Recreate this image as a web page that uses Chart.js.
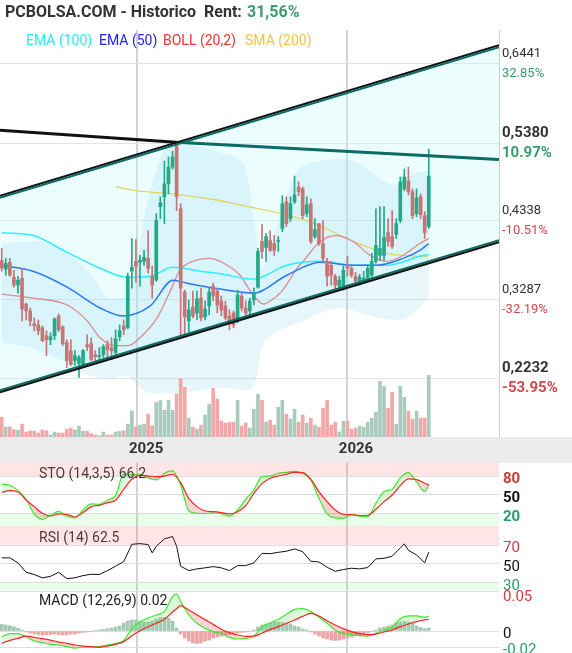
<!DOCTYPE html>
<html>
<head>
<meta charset="utf-8">
<title>PCBOLSA.COM - Historico</title>
<script src="https://cdn.jsdelivr.net/npm/chart.js@4.4.1/dist/chart.umd.min.js"></script>
<style>
  html, body { margin: 0; padding: 0; background: #fff; }
  #page { position: relative; width: 572px; height: 653px; overflow: hidden; font-family: Roboto, "Noto Sans", sans-serif; }
  #page canvas { position: absolute; left: 0; }
  .txt { position: absolute; white-space: nowrap; line-height: 1; }
  #title { left: 5px; top: 4px; font-size: 16px; font-weight: bold; color: #333; }
  #rent { left: 247px; top: 4px; font-size: 16px; font-weight: bold; color: #3a9c6c; }
  .leg { top: 33px; font-size: 14px; }
</style>
</head>
<body>
<div id="page">
  <canvas id="cMain" width="572" height="463" style="top:0"></canvas>
  <canvas id="cSto" width="572" height="63" style="top:463px"></canvas>
  <canvas id="cRsi" width="572" height="64" style="top:526px"></canvas>
  <canvas id="cMacd" width="572" height="63" style="top:590px"></canvas>
  <div class="txt" id="title">PCBOLSA.COM - Historico&nbsp; Rent:</div>
  <div class="txt" id="rent">31,56%</div>
  <div class="txt leg" style="left:26px;color:#22eef2">EMA (100)</div>
  <div class="txt leg" style="left:99px;color:#2323ee">EMA (50)</div>
  <div class="txt leg" style="left:163px;color:#ee3434">BOLL (20,2)</div>
  <div class="txt leg" style="left:245px;color:#f2c440">SMA (200)</div>
</div>
<script>
// weekly candles, index 0 = first week shown
const open = [.3812,.3692,.3785,.3586,.3480,.3573,.3227,.3134,.2962,.2948,
  .2909,.2802,.2749,.2802,.3068,.2922,.2709,.2603,.2470,.2431,
  .2417,.2683,.2696,.2550,.2523,.2550,.2683,.2643,.2577,.2789,
  .2935,.2909,.3666,.3798,.3785,.3798,.3838,.3599,.3546,.4529,
  .4662,.4834,.5060,.5339,.4502,.3387,.3002,.3187,.3108,.3307,
  .3055,.3201,.3466,.3400,.3267,.3201,.3068,.3108,.3002,.3334,
  .3174,.3134,.3280,.3453,.4064,.3984,.4077,.4037,.4064,.4237,
  .4595,.4369,.4595,.4794,.4768,.4436,.4569,.4130,.4303,.4037,
  .3798,.3745,.3599,.3466,.3440,.3745,.3705,.3599,.3533,.3546,
  .3573,.3612,.3798,.3878,.3878,.4183,.4130,.4157,.4343,.4768,
  .4874,.4728,.4436,.4662,.4409,.4263];
const high = [.3971,.3838,.3838,.3679,.3599,.3705,.3241,.3174,.3041,.3015,
  .2935,.2869,.2842,.3041,.3095,.2935,.2749,.2749,.2603,.2537,
  .2616,.2816,.2776,.2603,.2643,.2683,.2736,.2776,.2882,.2948,
  .3015,.3639,.4104,.4090,.3878,.3944,.4210,.3732,.4436,.4662,
  .5140,.5193,.5272,.5392,.4569,.3413,.3280,.3400,.3400,.3440,
  .3267,.3440,.3506,.3440,.3334,.3267,.3148,.3134,.3413,.3373,
  .3267,.3307,.3440,.3971,.4290,.4170,.4210,.4144,.4130,.4675,
  .4662,.4662,.4940,.4861,.4794,.4662,.4635,.4369,.4303,.4343,
  .3838,.3798,.3626,.3599,.3732,.3865,.3759,.3652,.3626,.3666,
  .3732,.3905,.4502,.4529,.4529,.4369,.4476,.4369,.4927,.5033,
  .5060,.4768,.4768,.4701,.4462,.5299];
const low = [.3666,.3612,.3599,.3453,.3373,.3002,.3015,.2935,.2869,.2816,
  .2723,.2537,.2683,.2749,.2855,.2670,.2377,.2404,.2404,.2245,
  .2404,.2603,.2470,.2470,.2470,.2510,.2484,.2484,.2537,.2736,
  .2816,.2895,.3440,.3519,.3466,.3745,.3639,.3307,.3533,.4369,
  .4303,.4701,.5033,.4476,.2802,.2816,.2842,.3041,.3015,.3002,
  .3015,.3081,.3267,.3108,.3068,.3015,.2882,.2909,.2975,.3134,
  .3081,.3095,.3214,.3440,.3838,.3798,.3931,.3878,.3931,.4197,
  .4263,.4330,.4569,.4675,.4369,.4396,.4037,.4104,.4011,.3798,
  .3466,.3480,.3400,.3427,.3413,.3599,.3586,.3480,.3480,.3506,
  .3533,.3586,.3772,.3812,.3812,.3998,.3971,.4104,.4316,.4741,
  .4688,.4369,.4396,.4369,.4104,.4237];
const close = [.3705,.3772,.3612,.3480,.3546,.3161,.3134,.3002,.2935,.2869,
  .2736,.2749,.2789,.3028,.2882,.2696,.2470,.2417,.2537,.2510,
  .2603,.2656,.2484,.2523,.2537,.2656,.2616,.2603,.2763,.2869,
  .2882,.3599,.3719,.3732,.3812,.3851,.3705,.3480,.4343,.4582,
  .4834,.5060,.5193,.4662,.3440,.3055,.3148,.3068,.3294,.3041,
  .3161,.3387,.3334,.3214,.3148,.3041,.2962,.2948,.3347,.3174,
  .3108,.3267,.3373,.3931,.3931,.4130,.3944,.3944,.4077,.4569,
  .4303,.4569,.4688,.4728,.4409,.4555,.4064,.4223,.4037,.3838,
  .3599,.3612,.3480,.3546,.3679,.3705,.3612,.3533,.3586,.3573,
  .3705,.3798,.4011,.3971,.4117,.4064,.3998,.4303,.4861,.4927,
  .4728,.4409,.4648,.4423,.4183,.4940];
const volume = [200,100,100,73,67,130,50,60,60,40,
  70,63,20,50,40,40,77,90,70,110,
  60,60,33,20,13,50,20,20,50,57,
  63,130,263,100,120,130,230,113,350,367,
  270,370,270,433,590,500,190,100,80,120,
  220,330,490,380,160,140,150,150,370,110,
  140,90,280,430,370,150,170,120,300,370,
  230,180,280,150,220,140,190,120,100,290,
  370,120,150,50,160,160,80,90,110,100,
  150,190,250,560,510,290,450,130,510,400,
  260,180,260,190,190,620];

// year boundaries (week index) and their labels
const yearTicks = [33.3, 84.9];
const yearLabels = ['2025', '2026'];

// right price axis
const priceTicks = [0.6441, 0.5380, 0.4338, 0.3287, 0.2232];
const priceTickPct = ['32.85%', '10.97%', '-10.51%', '-32.19%', '-53.95%'];
const priceTickStrong = [false, true, false, false, true];

// overlays, [week index, price]
const ema100 = [[0,.4180],[7.7,.4144],[16.1,.3918],[24.2,.3705],[30.8,.3586],[36.5,.3599],[42.1,.3719],[48.8,.3666],
  [53.7,.3632],[61.8,.3559],[70.1,.3745],[78.3,.3798],[86.4,.3745],[94.7,.3745],[102.8,.3865],[105,.3891]];
const ema50 = [[0,.3745],[7.7,.3666],[16.1,.3453],[24.2,.3174],[29.8,.3068],[36.5,.3201],[42.1,.3546],[45.6,.3506],
  [53.7,.3427],[61.8,.3373],[70.1,.3612],[78.3,.3785],[86.4,.3745],[92.3,.3745],[98.7,.3838],[102.8,.3944],[105,.4037]];
const bollMid = [[0,.3360],[7.7,.3307],[16.1,.3214],[21,.3002],[24.2,.2776],[27.9,.2670],[31.1,.2670],[34,.2776],
  [38.2,.3041],[42.1,.3480],[43.8,.3679],[47,.3798],[51.2,.3838],[53.7,.3798],[58.6,.3612],[61,.3413],[64.3,.3227],
  [66,.3267],[68.9,.3400],[72.6,.3705],[74.1,.3798],[78.3,.4064],[82.4,.4144],[86.4,.4064],[90.6,.3878],[94.7,.3798],
  [98.7,.3878],[102.8,.4037],[105,.4104]];
const sma200 = [[28.1,.4794],[33.5,.4741],[41.9,.4701],[52.5,.4622],[60.6,.4529],[68.9,.4436],[77,.4303],
  [86.4,.4064],[94.7,.3905],[98.7,.3878],[104.8,.3865]];
const bbIdx = [0,7.0,14.3,21.7,26.6,30.3,32.8,35.2,37.7,40.2,43.8,48.8,54.9,59.8,62.3,64.0,66.0,69.7,73.3,78.3,83.2,88.1,93.0,96.7,100.4,105];
const bbUpper = [.4037,.4064,.3971,.3639,.3307,.3307,.3639,.4436,.4967,.5299,.5365,.5339,.5233,.5060,.4237,.3705,.3971,.4635,.5033,.5140,.5166,.5100,.4901,.4821,.4954,.5007];
const bbLower = [.2709,.2643,.2484,.2271,.2218,.2271,.2178,.2059,.2032,.2032,.2032,.2072,.2112,.2072,.2178,.2643,.2802,.2909,.2975,.3108,.3174,.3108,.3041,.3015,.3068,.3307];

// trend channel and resistance line, [week index, price]
const chanUpper = [[-0.42, 0.4662], [122.27, 0.6677]];
const chanLower = [[-0.42, 0.2059], [122.27, 0.4068]];
const resistOld = [[-0.42, 0.5551], [42.86, 0.5392]];
const resistNew = [[42.86, 0.5392], [122.27, 0.5162]];

// oscillators
const oscIdx = [0,2,4,6,8,10,12,14,16,18,20,22,24,26,28,30,32,34,36,38,40,42,44,46,48,50,52,
  54,56,58,60,62,64,66,68,70,72,74,76,78,80,82,84,86,88,90,92,94,96,98,100,102,104,105];
const stoK = [66.7,65.2,56.5,42.6,18.9,10.3,16.8,23.2,15.2,12.4,
  25.3,35,34.5,41,48.4,83.4,81.8,82.9,77.4,73.7,
  84.5,88.2,65.6,23.7,20,19.5,20.5,19.5,15.2,25.3,
  42.6,57.6,79,80,84.5,86,87.6,84.5,73.7,44.1,
  19,12.5,11.9,17.8,15.2,14.5,36.1,54.8,58.7,77.4,
  85.5,70.5,55,66.2];
const stoD = [53.9,56.5,54.4,41.5,30.7,20,15.6,18.9,18.3,14,
  21.1,30.7,32.8,37.2,41,58.7,74.8,81.2,80,79,
  80,82.9,69.4,44.1,30.7,23.7,22.6,21.1,18.9,22.6,
  32.3,52.2,67.8,76.5,80,82.9,86,85.5,74.8,54.8,
  38.7,25.3,18.3,17.8,16.3,16.8,26.4,38.7,49.5,64.5,
  75.4,74.3,68.4,65.6];
const rsi = [[0,56.4],[2,56.4],[4,51.1],[6,41.1],[8,38.7],[10,35.2],[12,36.8],[14,41.1],[16,34.4],[18,35.2],
  [20,37.6],[22,39],[24,38.7],[26,42.9],[28,47.5],[30,52.4],[32,70.8],[34,71.5],[36,70.5],[37,61.7],[38,68.7],
  [40,76.5],[42,79],[43,68.7],[44,47.5],[46,42.9],[48,44.7],[50,45.8],[52,47.1],[54,45.8],[56,42.9],[58,48.2],
  [60,48.2],[62,51.1],[64,61.2],[66,60.8],[68,62.3],[70,63.4],[72,65.9],[74,63],[76,52.8],[78,52.1],[80,46.4],
  [82,42.2],[84,44],[86,45.4],[88,44.7],[90,46.1],[92,55.3],[94,55.9],[96,58.1],[98,67],[99,71.2],[100,64.4],
  [102,59.5],[104,51.1],[105,62.5]];
const macd = [[0,-.0071],[2,-.0033],[4,-.0033],[6,-.0071],[8,-.0125],[10,-.0146],[12,-.0167],[14,-.0175],[16,-.0196],
  [18,-.0213],[20,-.02],[22,-.02],[24,-.0192],[26,-.0175],[28,-.0154],[30,-.0117],[32,.0029],[34,.0113],[36,.0163],
  [38,.02],[40,.0242],[42,.0429],[43,.0463],[44,.0367],[46,.02],[48,.0096],[50,.0033],[52,-.0008],[54,-.0033],
  [56,-.0079],[58,-.01],[60,-.0092],[62,-.0063],[64,.0054],[66,.01],[68,.0146],[70,.0208],[72,.0271],[74,.0279],
  [76,.0242],[78,.0171],[80,.0096],[82,.0013],[84,-.0033],[86,-.0046],[88,-.0058],[90,-.0063],[92,-.0029],
  [94,.0013],[96,.005],[98,.0154],[100,.0188],[102,.0188],[104,.0171],[105,.0188]];
const macdSignal = [[0,-.0154],[2,-.0117],[4,-.0092],[6,-.0063],[8,-.0079],[10,-.0096],[12,-.0113],[14,-.0138],
  [16,-.0154],[18,-.0175],[20,-.0188],[22,-.0196],[24,-.0204],[26,-.0188],[28,-.0167],[30,-.0133],[32,-.0058],
  [34,.0004],[36,.0054],[38,.0096],[40,.0146],[42,.0238],[43,.0278],[44,.0317],[46,.0263],[48,.0204],[50,.0142],
  [52,.0083],[54,.0021],[56,-.0021],[58,-.005],[60,-.0067],[62,-.0063],[64,-.0025],[66,.0017],[68,.0054],
  [70,.0096],[72,.0138],[74,.0183],[76,.0221],[78,.0188],[80,.0129],[82,.0075],[84,.0029],[86,-.0008],
  [88,-.0033],[90,-.0046],[92,-.0038],[94,-.0013],[96,.0013],[98,.0054],[100,.0088],[102,.0117],[104,.0138],[105,.0146]];
const macdHist = [.0084,.0075,.0066,.0054,.0034,.0013,
  -.0013,-.0025,-.0038,-.0044,-.005,-.005,-.0044,-.0038,-.0044,-.005,-.005,-.0038,-.0038,-.0025,-.0019,-.0013,-.0006,
  .0006,.0013,.0019,.0031,.0038,.005,.0063,.01,.0125,.0138,.0138,.0125,.0113,.0113,.0125,.015,.0169,.0171,.0163,.0125,.0038,
  -.0038,-.0088,-.0125,-.015,-.0156,-.015,-.0125,-.0113,-.0088,-.0075,-.0063,-.005,-.0044,-.0038,-.0025,-.0019,-.0013,-.0006,
  .0013,.005,.0075,.0088,.01,.0113,.0113,.0106,.01,.0088,.0063,.005,.0025,.0013,
  -.0013,-.0038,-.0063,-.0088,-.01,-.0113,-.0119,-.0113,-.01,-.0088,-.0075,-.0063,-.005,-.0038,-.0019,
  -.0006,.0013,.0038,.005,.0063,.0075,.01,.0113,.0119,.0113,.0088,.0063,.0044,.0031,.0038];

const X_MIN = -0.42, X_MAX = 122.27;
const UP = '#23a985', DOWN = '#c87474';

const pts = pairs => pairs.map(([x, y]) => ({ x, y }));
const xy = (xs, ys) => xs.map((x, i) => ({ x, y: ys[i] }));
const weeks = open.map((_, i) => i);
const isUp = i => close[i] >= open[i];

// draws a dataset shifted by a pixel or two (the channel lines are doubled)
const shiftPlugin = {
  id: 'shift',
  beforeDatasetDraw(chart, args) {
    const s = chart.data.datasets[args.index].shiftY;
    if (s) { chart.ctx.save(); chart.ctx.translate(0, s); }
  },
  afterDatasetDraw(chart, args) {
    if (chart.data.datasets[args.index].shiftY) chart.ctx.restore();
  }
};

const mainDecor = {
  id: 'mainDecor',
  beforeDraw(chart) {
    const { ctx, chartArea: a, width, height } = chart;
    ctx.save();
    ctx.fillStyle = '#ebebeb';
    ctx.fillRect(0, a.bottom, width, height - a.bottom);
    ctx.restore();
  },
  afterDraw(chart) {
    const { ctx, scales: { y } } = chart;
    ctx.save();
    ctx.textBaseline = 'middle';
    priceTicks.forEach((v, i) => {
      const py = y.getPixelForValue(v);
      ctx.font = (priceTickStrong[i] ? 'bold 15px' : '13px') + ' Roboto';
      ctx.fillStyle = '#333';
      ctx.fillText(v.toFixed(4).replace('.', ','), 502, py - 10);
      ctx.fillStyle = priceTickPct[i].charAt(0) === '-' ? '#d34848' : '#3a9c6c';
      ctx.fillText(priceTickPct[i], 502, py + 10);
    });
    ctx.restore();
  }
};

const panelDecor = {
  id: 'panelDecor',
  afterDatasetsDraw(chart, args, opts) {
    const { ctx, chartArea: a, scales: { y } } = chart;
    ctx.save();
    ctx.font = '14px Roboto';
    ctx.fillStyle = opts.titleColor || '#3a3a3a';
    ctx.textBaseline = 'middle';
    ctx.fillText(opts.title, 39, a.top + opts.titleY);
    (opts.bands || []).forEach(b => {
      const top = Math.max(a.top, y.getPixelForValue(b.to));
      const bot = Math.min(a.bottom, y.getPixelForValue(b.from));
      ctx.fillStyle = b.color;
      ctx.fillRect(a.left, top, a.right - a.left, bot - top);
    });
    ctx.restore();
  },
  afterDraw(chart, args, opts) {
    const { ctx, scales: { y }, height } = chart;
    ctx.save();
    ctx.textBaseline = 'middle';
    opts.labels.forEach(l => {
      const py = Math.min(Math.max(y.getPixelForValue(l.v) + 3.5, 7), height + 2);
      ctx.font = (l.bold ? 'bold ' : '') + '15px Roboto';
      ctx.fillStyle = l.color;
      ctx.fillText(l.text, 503, py);
    });
    ctx.restore();
  }
};

function xAxis(showLabels) {
  return {
    type: 'linear', min: X_MIN, max: X_MAX, offset: false,
    afterBuildTicks: ax => { ax.ticks = yearTicks.map(v => ({ value: v })); },
    grid: { color: '#d4d4d4', lineWidth: 2, drawTicks: false, offset: false },
    border: { display: false },
    ticks: showLabels
      ? { autoSkip: false, maxRotation: 0, padding: 3, labelOffset: 9, color: '#333',
          font: { family: 'Roboto', size: 15, weight: 'bold' }, callback: (v, i) => yearLabels[i] }
      : { display: false }
  };
}

const baseOpts = { responsive: false, animation: false, devicePixelRatio: 1, events: [] };
const lineSet = (data, color, width, extra) => Object.assign({
  type: 'line', data, borderColor: color, borderWidth: width, pointRadius: 0,
  cubicInterpolationMode: 'monotone', fill: false
}, extra || {});

// ---------- main price chart ----------
const mainSets = [
  lineSet(pts(chanUpper), 'transparent', 0, { fill: 1, backgroundColor: 'rgba(190,250,250,0.3)' }),
  lineSet(pts(chanLower), 'transparent', 0),
  lineSet(xy(bbIdx, bbUpper), 'transparent', 0, { fill: 3, backgroundColor: 'rgba(160,215,240,0.24)' }),
  lineSet(xy(bbIdx, bbLower), 'transparent', 0),
  { type: 'bar', yAxisID: 'yv', data: xy(weeks, volume), barThickness: 3, grouped: false,
    backgroundColor: weeks.map(i => isUp(i) ? '#a9cbbd' : '#f2a8a8') },
  lineSet(pts(sma200), '#e2d660', 1.3),
  lineSet(pts(bollMid), '#de8c90', 1.3),
  lineSet(pts(ema100), '#2eeeff', 1.5),
  lineSet(pts(ema50), '#2a78ff', 1.5),
  { type: 'bar', data: weeks.map(i => ({ x: i, y: [low[i], high[i]] })), barThickness: 1, grouped: false,
    backgroundColor: weeks.map(i => isUp(i) ? UP : DOWN) },
  { type: 'bar', data: weeks.map(i => ({ x: i, y: [open[i], close[i]] })), barThickness: 3, grouped: false,
    minBarLength: 1, backgroundColor: weeks.map(i => isUp(i) ? UP : DOWN) },
  lineSet(pts(resistOld), '#111', 3, { cubicInterpolationMode: 'default' }),
  lineSet(pts(resistNew), '#0b6b66', 3, { cubicInterpolationMode: 'default' }),
  lineSet(pts(chanUpper), '#111', 2, { shiftY: -1 }),
  lineSet(pts(chanUpper), '#0b6b66', 2, { shiftY: 1 }),
  lineSet(pts(chanLower), '#0b6b66', 2, { shiftY: -1 }),
  lineSet(pts(chanLower), '#111', 2, { shiftY: 1 })
];
mainSets.forEach((d, i) => { d.order = 100 - i; });

new Chart(document.getElementById('cMain'), {
  type: 'line',
  data: { datasets: mainSets },
  options: Object.assign({}, baseOpts, {
    layout: { padding: { top: 30, right: 73, left: 0, bottom: 2 } },
    plugins: { legend: { display: false }, tooltip: { enabled: false }, filler: { drawTime: 'beforeDatasetsDraw' } },
    scales: {
      x: xAxis(true),
      y: { position: 'right', min: 0.1448, max: 0.6893,
        afterBuildTicks: ax => { ax.ticks = priceTicks.map(v => ({ value: v })); },
        grid: { color: '#e3e3e3', drawTicks: false }, border: { display: true, color: '#cfcfcf' },
        ticks: { display: false } },
      yv: { display: false, min: 0, max: 4100 }
    }
  }),
  plugins: [shiftPlugin, mainDecor]
});

// ---------- lower panels ----------
const PINK = 'rgba(255,40,40,0.12)', MINT = 'rgba(40,255,40,0.1)';
function lowerChart(id, datasets, yOpts, decor) {
  datasets.forEach((d, i) => { if (d.order === undefined) d.order = 10 - i; });
  return new Chart(document.getElementById(id), {
    type: 'line',
    data: { datasets },
    options: Object.assign({}, baseOpts, {
      layout: { padding: { top: 0, right: 73, left: 0, bottom: 0 } },
      plugins: { legend: { display: false }, tooltip: { enabled: false }, panelDecor: decor },
      scales: {
        x: xAxis(false),
        y: Object.assign({ position: 'right', grid: { color: '#dedede', drawTicks: false },
          border: { display: false }, ticks: { display: false } }, yOpts)
      }
    }),
    plugins: [panelDecor]
  });
}

lowerChart('cSto', [
  lineSet(xy(oscIdx, stoK), '#3bea2e', 1.2, { fill: { target: 1, above: 'rgba(60,220,60,0.18)', below: 'rgba(235,60,60,0.22)' } }),
  lineSet(xy(oscIdx, stoD), '#ff2222', 1.2)
], { min: -0.5, max: 101, afterBuildTicks: ax => { ax.ticks = [20, 50, 80].map(v => ({ value: v })); } }, {
  title: 'STO (14,3,5) 66.2', titleY: 11,
  bands: [{ from: 80, to: 101, color: PINK }, { from: -0.5, to: 20, color: MINT }],
  labels: [{ v: 80, text: '80', color: '#cc3a3a', bold: true }, { v: 50, text: '50', color: '#111', bold: true },
    { v: 20, text: '20', color: '#2a9a6a', bold: true }]
});

lowerChart('cRsi', [
  lineSet(pts(rsi), '#111', 1, { cubicInterpolationMode: 'default' })
], { min: 22.3, max: 90.2, afterBuildTicks: ax => { ax.ticks = [30, 50, 70].map(v => ({ value: v })); } }, {
  title: 'RSI (14) 62.5', titleY: 12,
  bands: [{ from: 70, to: 90.2, color: PINK }, { from: 22.3, to: 30, color: MINT }],
  labels: [{ v: 70, text: '70', color: '#cc3a3a' }, { v: 50, text: '50', color: '#111' },
    { v: 30, text: '30', color: '#2a9a6a' }]
});

lowerChart('cMacd', [
  lineSet(pts(macd), '#3bea2e', 1.2, { order: 2, fill: { target: 1, above: 'rgba(60,220,60,0.18)', below: 'rgba(235,60,60,0.22)' } }),
  lineSet(pts(macdSignal), '#ff2222', 1.2, { order: 1 }),
  { type: 'bar', order: 3, data: xy(weeks, macdHist), barThickness: 3, grouped: false,
    backgroundColor: macdHist.map(v => v >= 0 ? '#a3c9b4' : '#eba6a6') }
], { min: -0.0275, max: 0.05125, afterBuildTicks: ax => { ax.ticks = [-0.02, 0, 0.05].map(v => ({ value: v })); } }, {
  title: 'MACD (12,26,9) 0.02', titleY: 11, titleColor: '#222',
  labels: [{ v: 0.05, text: '0.05', color: '#d04040' }, { v: 0, text: '0', color: '#111' },
    { v: -0.02, text: '-0.02', color: '#2a9a6a' }]
});
</script>
</body>
</html>
